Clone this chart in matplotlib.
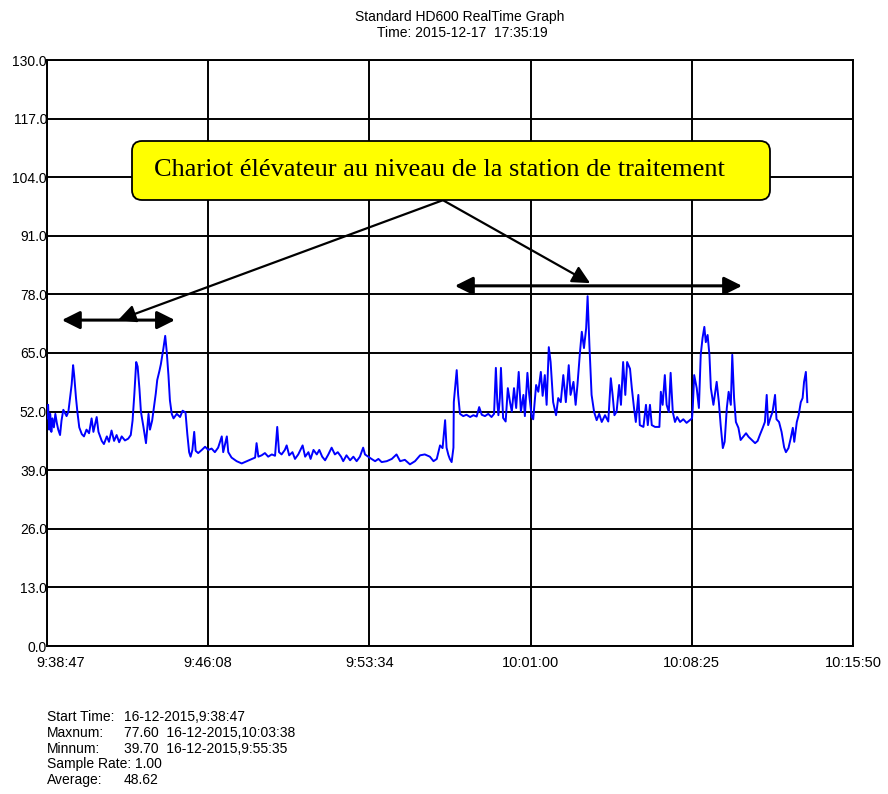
import numpy as np
import matplotlib
matplotlib.use("Agg")
import matplotlib.pyplot as plt
from matplotlib.patches import FancyBboxPatch
from matplotlib.transforms import ScaledTranslation

# ---------------- data ----------------
# seconds since start (9:38:47), sound level
t_sec = [0, 3, 6, 9, 12, 15, 19, 23, 27, 31, 36, 40, 45, 54, 59, 63, 68, 72, 75, 80,
         84, 89, 96, 102, 109, 116, 123, 128, 137, 142, 151, 157, 165, 171, 178, 185,
         192, 199, 206, 215, 224, 231, 236, 241, 246, 250, 255, 259, 266, 273, 280,
         284, 290, 295, 300, 304, 310, 314, 321, 326, 330, 335, 339, 344, 349, 358,
         367, 374, 382, 387, 392, 396, 401, 406, 410, 417, 427, 436, 445, 454, 463,
         472, 482, 486, 496, 500, 509, 523, 537, 551, 565, 574, 578, 583, 592, 601,
         610, 620, 629, 635, 640, 647, 656, 661, 668, 677, 684, 693, 705, 712, 721,
         727, 735, 744, 751, 759, 767, 776, 785, 794, 802, 811, 817, 826, 836, 845,
         854, 863, 872, 877, 886, 895, 905, 914, 923, 937, 951, 964, 974, 987, 1001,
         1015, 1029, 1042, 1056, 1066, 1075, 1084, 1091, 1098, 1102, 1107, 1111, 1116,
         1121, 1122, 1130, 1134, 1139, 1148, 1157, 1167, 1176, 1185, 1192, 1199, 1208,
         1217, 1226, 1233, 1238, 1242, 1245, 1249, 1252, 1256, 1258, 1265, 1271, 1277,
         1282, 1288, 1294, 1301, 1307, 1314, 1318, 1325, 1330, 1337, 1341, 1349, 1355,
         1362, 1367, 1373, 1378, 1384, 1389, 1396, 1404, 1410, 1417, 1424, 1431, 1439,
         1444, 1452, 1458, 1463, 1470, 1475, 1481, 1487, 1491, 1496, 1502, 1509, 1516,
         1523, 1530, 1539, 1548, 1555, 1560, 1565, 1571, 1578, 1583, 1589, 1595, 1600,
         1608, 1613, 1619, 1624, 1631, 1635, 1645, 1652, 1657, 1663, 1668, 1677, 1689,
         1693, 1698, 1704, 1709, 1715, 1720, 1726, 1732, 1738, 1746, 1755, 1764, 1773,
         1779, 1781, 1785, 1792, 1798, 1803, 1808, 1813, 1817, 1822, 1827, 1831, 1838,
         1842, 1847, 1853, 1858, 1864, 1869, 1875, 1880, 1886, 1890, 1895, 1900, 1907,
         1913, 1920, 1928, 1935, 1944, 1953, 1960, 1966, 1974, 1980, 1985, 1989, 1996,
         2001, 2008, 2012, 2019, 2026, 2033, 2038, 2045, 2051, 2057, 2061, 2068, 2073,
         2079, 2084, 2088, 2093, 2097]
level = [50.5, 53.5, 48.0, 51.5, 47.5, 50.5, 48.5, 51.5, 49.5, 48.0, 46.8, 50.0, 52.4,
         51.0, 52.0, 54.6, 58.0, 62.3, 60.0, 55.0, 51.8, 48.5, 47.0, 46.5, 48.0, 47.2,
         50.5, 47.5, 50.8, 47.5, 45.5, 44.8, 46.5, 45.3, 47.8, 45.5, 46.8, 45.2, 46.5,
         45.6, 46.0, 46.8, 50.0, 56.0, 63.0, 62.0, 57.0, 52.0, 48.6, 45.0, 51.5, 48.0,
         50.0, 53.0, 56.0, 59.0, 61.0, 62.5, 66.0, 68.8, 65.5, 60.0, 54.5, 51.5, 50.5,
         51.5, 50.8, 52.2, 51.8, 47.0, 43.0, 42.0, 43.5, 47.5, 43.3, 42.8, 43.5, 44.2,
         43.5, 43.8, 43.0, 44.0, 46.5, 43.0, 46.5, 43.0, 41.8, 41.0, 40.5, 41.0, 41.5,
         41.8, 45.0, 42.0, 42.3, 42.8, 42.0, 42.5, 42.2, 48.6, 43.0, 42.5, 43.5, 44.5,
         42.3, 43.0, 41.5, 42.5, 44.5, 42.0, 43.0, 41.5, 43.5, 42.5, 43.5, 42.0, 41.2,
         42.5, 44.0, 42.5, 43.0, 42.0, 41.0, 42.3, 41.2, 42.0, 41.0, 42.0, 44.0, 42.5,
         42.0, 41.5, 41.0, 41.5, 40.8, 41.0, 41.5, 42.5, 41.0, 41.3, 40.3, 41.0, 42.3,
         42.5, 42.0, 41.0, 41.5, 44.5, 43.9, 50.1, 44.0, 42.4, 41.5, 40.8, 44.0, 54.1,
         61.2, 55.7, 51.5, 51.0, 51.3, 50.8, 51.2, 50.9, 53.0, 51.3, 51.0, 51.5, 50.8,
         51.5, 61.7, 54.0, 51.2, 55.0, 61.7, 54.0, 50.6, 49.8, 57.2, 54.1, 52.0, 57.2,
         52.8, 60.8, 52.0, 55.7, 51.0, 60.6, 55.7, 50.8, 50.3, 57.9, 56.4, 60.8, 55.5,
         60.1, 53.5, 66.3, 63.0, 54.1, 51.2, 55.0, 54.1, 60.1, 54.1, 62.3, 55.7, 58.6,
         53.5, 57.9, 65.2, 69.7, 66.1, 70.5, 77.6, 66.8, 55.7, 51.9, 50.1, 51.5, 49.7,
         51.2, 49.8, 59.4, 55.7, 51.2, 52.0, 57.9, 53.5, 63.0, 55.7, 63.0, 61.5, 57.2,
         52.8, 49.7, 55.7, 49.0, 48.6, 53.5, 49.0, 53.5, 49.0, 48.6, 48.6, 56.4, 53.5,
         60.1, 53.5, 51.9, 60.6, 51.9, 49.7, 50.8, 49.7, 50.3, 49.5, 50.1, 50.5, 52.8,
         60.1, 57.2, 52.8, 64.6, 68.3, 70.8, 67.4, 69.0, 64.6, 57.2, 53.5, 55.7, 58.6,
         54.1, 49.0, 43.9, 45.3, 52.8, 56.4, 53.5, 64.6, 55.0, 49.7, 48.4, 45.7, 46.4,
         47.2, 46.4, 45.7, 45.0, 45.5, 46.8, 48.4, 49.7, 55.7, 49.0, 50.8, 51.9, 55.7,
         50.3, 49.7, 47.5, 44.1, 43.0, 43.9, 46.0, 48.4, 45.3, 49.7, 51.2, 54.1, 55.0,
         58.6, 60.8, 54.1]

x_span = 2223  # 9:38:47 -> 10:15:50
x_tick_labels = ["9:38:47", "9:46:08", "9:53:34", "10:01:00", "10:08:25", "10:15:50"]
y_ticks = [0, 13, 26, 39, 52, 65, 78, 91, 104, 117, 130]

title_lines = ["Standard HD600 RealTime Graph", "Time: 2015-12-17  17:35:19"]
callout_text = "Chariot élévateur au niveau de la station de traitement"
stat_labels = ["Start Time:", "Maxnum:", "Minnum:", "Sample Rate: 1.00", "Average:"]
stat_values = ["16-12-2015,9:38:47", "77.60  16-12-2015,10:03:38",
               "39.70  16-12-2015,9:55:35", "", "48.62"]

# ---------------- figure ----------------
W, H = 888, 794
fig = plt.figure(figsize=(W / 100, H / 100), dpi=100)
ax = fig.add_axes([47 / W, 1 - 646 / H, (853 - 47) / W, (646 - 60) / H])

sans = ["Liberation Sans", "DejaVu Sans"]

ax.plot(t_sec, level, color="#0000ff", lw=1.4, zorder=3)

ax.set_xlim(0, x_span)
ax.set_ylim(0, 130)
ax.set_xticks(np.linspace(0, x_span, 6))
ax.set_xticklabels(x_tick_labels, fontsize=10.5, family=sans)
ax.set_yticks(y_ticks)
ax.set_yticklabels([f"{v:.1f}" for v in y_ticks], fontsize=10, family=sans)
ax.tick_params(axis="both", length=0)
ax.tick_params(axis="y", pad=0)
ax.tick_params(axis="x", pad=7)
ax.grid(True, color="black", lw=1.4)
for s in ax.spines.values():
    s.set_color("black")
    s.set_linewidth(1.4)
# shift first x label to the right, as in the reference
lbl0 = ax.get_xticklabels()[0]
lbl0.set_transform(lbl0.get_transform() + ScaledTranslation(0.14, 0, fig.dpi_scale_trans))

# titles
fig.text(460 / W, 1 - 17 / H, title_lines[0], ha="center", va="center", fontsize=10, family=sans)
fig.text(462 / W, 1 - 33 / H, title_lines[1], ha="center", va="center", fontsize=10, family=sans)

# double-headed arrows and callout lines
dbl = dict(arrowstyle="<|-|>,head_length=0.9,head_width=0.45", color="black", lw=2.2,
           shrinkA=0, shrinkB=0, mutation_scale=12)
ax.annotate("", xy=(41, 72.3), xytext=(353, 72.3), arrowprops=dbl, annotation_clip=False, zorder=5)
ax.annotate("", xy=(1125, 79.9), xytext=(1917, 79.9), arrowprops=dbl, annotation_clip=False, zorder=5)
one = dict(arrowstyle="-|>,head_length=0.9,head_width=0.45", color="black", lw=1.6,
           shrinkA=0, shrinkB=0, mutation_scale=12)
ax.annotate("", xy=(196, 72.3), xytext=(1092, 98.9), arrowprops=one, annotation_clip=False, zorder=5)
ax.annotate("", xy=(1498, 80.5), xytext=(1092, 98.9), arrowprops=one, annotation_clip=False, zorder=5)

# callout box
box = FancyBboxPatch((132 / 100, (H - 200) / 100), 638 / 100, 59 / 100,
                     boxstyle="round,pad=0,rounding_size=0.1",
                     transform=fig.dpi_scale_trans, facecolor="#ffff00",
                     edgecolor="black", lw=1.3, zorder=10)
fig.add_artist(box)
fig.text(154 / W, 1 - 170 / H, callout_text, ha="left", va="center", fontsize=19,
         family=["Liberation Serif", "DejaVu Serif"], zorder=11)

# stats block
ys = [717, 733, 749, 764, 780]
for lab, val, yy in zip(stat_labels, stat_values, ys):
    fig.text(47 / W, 1 - yy / H, lab, ha="left", va="center", fontsize=10, family=sans)
    if val:
        fig.text(124 / W, 1 - yy / H, val, ha="left", va="center", fontsize=10, family=sans)

fig.savefig("out.png", dpi=100)
